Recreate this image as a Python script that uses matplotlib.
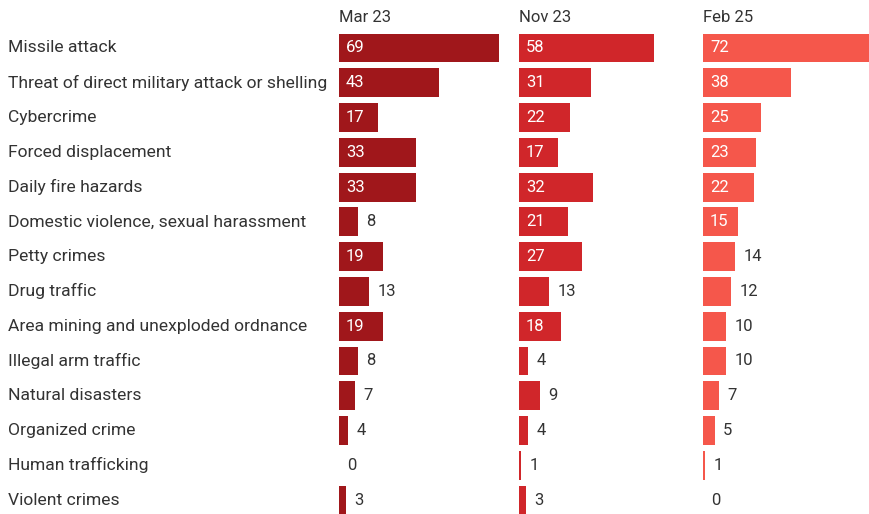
import matplotlib.pyplot as plt

plt.rcParams['font.family'] = ['Roboto', 'DejaVu Sans']

categories = ["Missile attack", "Threat of direct military attack or shelling", "Cybercrime",
              "Forced displacement", "Daily fire hazards", "Domestic violence, sexual harassment",
              "Petty crimes", "Drug traffic", "Area mining and unexploded ordnance",
              "Illegal arm traffic", "Natural disasters", "Organized crime",
              "Human trafficking", "Violent crimes"]
periods = ["Mar 23", "Nov 23", "Feb 25"]
mar23 = [69, 43, 17, 33, 33, 8, 19, 13, 19, 8, 7, 4, 0, 3]
nov23 = [58, 31, 22, 17, 32, 21, 27, 13, 18, 4, 9, 4, 1, 3]
feb25 = [72, 38, 25, 23, 22, 15, 14, 12, 10, 10, 7, 5, 1, 0]
colors = ["#a0171b", "#d0262a", "#f5574b"]

W, H = 870, 514
fig = plt.figure(figsize=(W / 100, H / 100), dpi=100)

px_per_unit = 2.32
row_h = 34.77
top = 48 - row_h / 2
col_x = [339, 519, 703]
col_w = 167
n = len(categories)

for x0, name, vals, c in zip(col_x, periods, [mar23, nov23, feb25], colors):
    ax = fig.add_axes([x0 / W, 0, col_w / W, (H - top) / H])
    ax.barh(range(n), vals, height=0.83, color=c)
    ax.set_xlim(0, col_w / px_per_unit)
    ax.set_ylim(-0.5 + (H - top) / row_h, -0.5)
    ax.axis('off')
    for i, v in enumerate(vals):
        if v >= 15:
            ax.annotate(str(v), (0, i), xytext=(5, 0), textcoords='offset points',
                        va='center', ha='left', fontsize=12, color='white')
        else:
            ax.annotate(str(v), (v, i), xytext=(6, 0), textcoords='offset points',
                        va='center', ha='left', fontsize=12, color='#333333')
    fig.text(x0 / W, 1 - 18 / H, name, ha='left', va='center', fontsize=12, color='#333333')

for i, cat in enumerate(categories):
    fig.text(8 / W, 1 - (48 + i * row_h) / H, cat, ha='left', va='center',
             fontsize=12.6, color='#333333')

fig.savefig("out.png", dpi=100)
